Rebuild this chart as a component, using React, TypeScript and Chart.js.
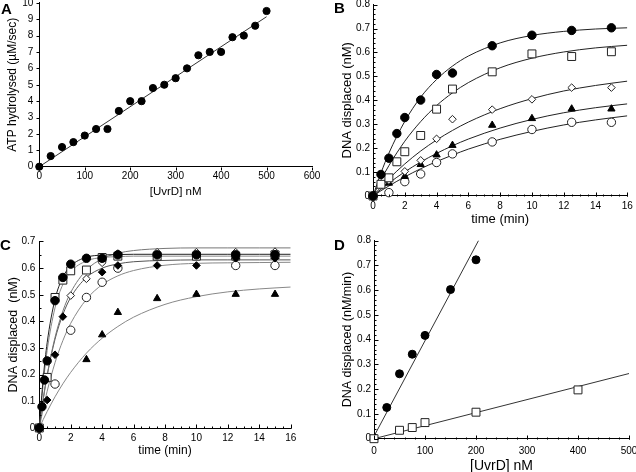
import React, { useEffect, useRef } from 'react';
import { Chart, registerables } from 'chart.js';
Chart.register(...registerables);

const FONT = '"Liberation Sans", Arial, Helvetica, sans-serif';

// ---------- Panel A ----------
const aUvrD = [0, 25, 50, 75, 100, 125, 150, 175, 200, 225, 250, 275, 300, 325, 350, 375, 400, 425, 450, 475, 500];
const aATP = [0, 0.65, 1.2, 1.5, 1.9, 2.3, 2.3, 3.4, 4.0, 4.0, 4.8, 5.0, 5.4, 6.0, 6.8, 7.0, 7.0, 7.9, 8.0, 8.6, 9.5];
const aFitX = [0, 500];
const aFitY = [0, 9.15];

// ---------- Panel B ----------
const bTime1 = [0, 0.5, 1, 1.5, 2, 3, 4, 5, 7.5, 10, 12.5, 15];
const bFilledCircle = [0, 0.09, 0.158, 0.261, 0.328, 0.401, 0.508, 0.514, 0.628, 0.672, 0.692, 0.703];
const bOpenSquare = [0, 0.049, 0.076, 0.143, 0.185, 0.253, 0.363, 0.447, 0.519, 0.594, 0.583, 0.603];
const bTime2 = [0, 1, 2, 3, 4, 5, 7.5, 10, 12.5, 15];
const bOpenDiamond = [0, 0.065, 0.103, 0.149, 0.239, 0.321, 0.361, 0.404, 0.453, 0.453];
const bFilledTriangle = [0, 0.054, 0.082, 0.132, 0.172, 0.212, 0.296, 0.324, 0.364, 0.364];
const bOpenCircle = [0, 0.014, 0.06, 0.092, 0.14, 0.176, 0.226, 0.278, 0.308, 0.308];
const bFitT = [0, 0.5, 1, 2, 3, 4, 5, 6, 8, 10, 12, 14, 16];
const bFit1 = [0, 0.096, 0.179, 0.312, 0.413, 0.487, 0.543, 0.585, 0.640, 0.671, 0.688, 0.698, 0.703];
const bFit2 = [0, 0.067, 0.127, 0.229, 0.311, 0.378, 0.431, 0.474, 0.536, 0.576, 0.602, 0.619, 0.630];
const bFit3 = [0, 0.037, 0.072, 0.134, 0.188, 0.234, 0.274, 0.309, 0.365, 0.407, 0.439, 0.462, 0.480];
const bFit4 = [0, 0.028, 0.054, 0.101, 0.142, 0.178, 0.210, 0.238, 0.284, 0.320, 0.348, 0.369, 0.385];
const bFit5 = [0, 0.022, 0.042, 0.080, 0.114, 0.144, 0.171, 0.196, 0.237, 0.270, 0.297, 0.318, 0.335];

// ---------- Panel C ----------
const cTime1 = [0, 0.17, 0.33, 0.5, 1, 1.5, 2, 3, 4, 5, 7.5, 10, 12.5, 15];
const cFilledCircle = [0, 0.08, 0.18, 0.252, 0.478, 0.565, 0.615, 0.637, 0.637, 0.65, 0.65, 0.65, 0.65, 0.65];
const cTime2 = [0, 0.5, 1, 1.5, 2, 3, 4, 5, 7.5, 10, 12.5, 15];
const cOpenSquare = [0, 0.19, 0.49, 0.555, 0.59, 0.593, 0.64, 0.645, 0.645, 0.645, 0.645, 0.65];
const cOpenDiamond = [0, null, null, null, 0.497, 0.56, 0.62, 0.655, 0.66, 0.66, 0.66, 0.662];
const cFilledDiamond = [0, 0.105, 0.275, 0.418, null, null, 0.585, 0.61, 0.61, 0.61, 0.637, 0.637];
const cOpenCircle = [0, null, 0.165, null, 0.367, 0.49, 0.547, 0.60, 0.65, 0.65, 0.61, 0.61];
const cFilledTriangle = [0, null, null, null, null, 0.257, 0.35, 0.434, 0.486, 0.502, 0.502, 0.502];
const cFitT = [0, 0.25, 0.5, 1, 1.5, 2, 3, 4, 5, 6, 8, 10, 12, 14, 16];
const cFit1 = [0, 0.187, 0.320, 0.483, 0.566, 0.608, 0.641, 0.649, 0.651, 0.652, 0.652, 0.652, 0.652, 0.652, 0.652];
const cFit2 = [0, 0.167, 0.291, 0.451, 0.539, 0.587, 0.627, 0.640, 0.643, 0.645, 0.645, 0.645, 0.645, 0.645, 0.645];
const cFit3 = [0, 0.108, 0.199, 0.340, 0.439, 0.509, 0.593, 0.635, 0.656, 0.666, 0.674, 0.676, 0.676, 0.676, 0.676];
const cFit4 = [0, 0.108, 0.197, 0.333, 0.426, 0.490, 0.565, 0.600, 0.616, 0.624, 0.629, 0.631, 0.631, 0.631, 0.631];
const cFit5 = [0, 0.073, 0.138, 0.245, 0.328, 0.393, 0.483, 0.538, 0.571, 0.591, 0.611, 0.618, 0.620, 0.621, 0.622];
const cFit6 = [0, 0.032, 0.062, 0.117, 0.166, 0.209, 0.281, 0.337, 0.381, 0.416, 0.464, 0.493, 0.511, 0.522, 0.529];

// ---------- Panel D ----------
const dUvrD1 = [25, 50, 75, 100, 150, 200];
const dRate1 = [0.126, 0.262, 0.341, 0.417, 0.602, 0.722];
const dUvrD2 = [0, 50, 75, 100, 200, 400];
const dRate2 = [0, 0.034, 0.045, 0.065, 0.107, 0.197];
const dFit1X = [0, 205];
const dFit1Y = [0.01, 0.8];
const dFit2X = [0, 500];
const dFit2Y = [0, 0.263];

const pts = (xs: number[], ys: (number | null)[]) =>
  xs.map((x, i) => ({ x, y: ys[i] })).filter((p) => p.y !== null);

const marker = (data: any[], style: string, filled: boolean, radius: number) => ({
  data,
  showLine: false,
  pointStyle: style,
  pointRadius: radius,
  pointHoverRadius: radius,
  pointBackgroundColor: filled ? '#000' : '#fff',
  pointBorderColor: filled ? '#000' : '#222',
  pointBorderWidth: 1,
  clip: false,
  order: 0,
});

const curve = (data: any[], color = '#222', width = 1) => ({
  data,
  showLine: true,
  pointRadius: 0,
  pointHoverRadius: 0,
  borderColor: color,
  borderWidth: width,
  cubicInterpolationMode: 'monotone',
  fill: false,
  order: 1,
});

const tickMarksPlugin = {
  id: 'tickMarks',
  afterDraw(chart: any, _args: any, opts: any) {
    const { ctx, chartArea } = chart;
    const xs = chart.scales.x;
    const ys = chart.scales.y;
    ctx.save();
    ctx.strokeStyle = '#000';
    ctx.lineWidth = 1;
    ctx.beginPath();
    const dx = opts.inward ? -1 : 1;
    const dy = opts.inward ? 1 : -1;
    const axisY = Math.round(chartArea.bottom) + 0.5;
    const axisX = Math.round(chartArea.left) + 0.5;
    const doX = (step: number, len: number) => {
      if (!step) return;
      const n = Math.round((xs.max - xs.min) / step);
      for (let i = 0; i <= n; i++) {
        const p = Math.round(xs.getPixelForValue(xs.min + i * step)) + 0.5;
        ctx.moveTo(p, axisY);
        ctx.lineTo(p, axisY + dx * len);
      }
    };
    const doY = (step: number, len: number) => {
      if (!step) return;
      const n = Math.round((ys.max - ys.min) / step);
      for (let i = 0; i <= n; i++) {
        const p = Math.round(ys.getPixelForValue(ys.min + i * step)) + 0.5;
        ctx.moveTo(axisX, p);
        ctx.lineTo(axisX + dy * len, p);
      }
    };
    doX(opts.xMinor, opts.minorLen);
    doX(opts.xMajor, opts.majorLen);
    doY(opts.yMinor, opts.minorLen);
    doY(opts.yMajor, opts.majorLen);
    ctx.stroke();
    ctx.restore();
  },
};

type PanelCfg = {
  datasets: any[];
  l: number; r: number; t: number; b: number;
  yw: number; xh: number;
  xMin: number; xMax: number; xStep: number;
  yMin: number; yMax: number; yStep: number;
  xTitle: string; yTitle: string;
  xTitleSize: number; yTitleSize: number;
  xTitlePad: number; yTitlePad: number;
  tickSize: number; xTickPad: number; yTickPad: number;
  marks: any;
};

const W = 636;
const H = 486;
const OFF = 2; // canvas is shifted up by OFF px

function buildConfig(p: PanelCfg): any {
  return {
    type: 'scatter',
    data: { datasets: p.datasets },
    plugins: [tickMarksPlugin],
    options: {
      responsive: false,
      animation: false,
      events: [],
      layout: {
        padding: {
          left: p.l - p.yw,
          top: p.t + OFF - 0.5,
          right: W - p.r,
          bottom: H - (p.b + OFF) - p.xh,
        },
      },
      plugins: {
        legend: { display: false },
        tooltip: { enabled: false },
        tickMarks: p.marks,
      },
      scales: {
        x: {
          type: 'linear',
          min: p.xMin,
          max: p.xMax,
          ticks: {
            stepSize: p.xStep,
            autoSkip: false,
            maxRotation: 0,
            padding: p.xTickPad,
            color: '#000',
            font: { family: FONT, size: p.tickSize },
          },
          grid: { display: false, drawTicks: false },
          border: { display: true, color: '#000', width: 1 },
          title: {
            display: true,
            text: p.xTitle,
            color: '#000',
            font: { family: FONT, size: p.xTitleSize },
            padding: { top: 0, bottom: p.xTitlePad },
          },
          afterFit: (s: any) => {
            s.height = p.xh;
            s.paddingLeft = 0;
            s.paddingRight = 0;
          },
        },
        y: {
          type: 'linear',
          min: p.yMin,
          max: p.yMax,
          ticks: {
            stepSize: p.yStep,
            autoSkip: false,
            padding: p.yTickPad,
            color: '#000',
            font: { family: FONT, size: p.tickSize },
          },
          grid: { display: false, drawTicks: false },
          border: { display: true, color: '#000', width: 1 },
          title: {
            display: true,
            text: p.yTitle,
            color: '#000',
            font: { family: FONT, size: p.yTitleSize },
            padding: { top: p.yTitlePad, bottom: 0 },
          },
          afterFit: (s: any) => {
            s.width = p.yw;
            s.paddingTop = 0;
            s.paddingBottom = 0;
          },
        },
      },
    },
  };
}

const panelA: PanelCfg = {
  datasets: [
    marker(pts(aUvrD, aATP), 'circle', true, 3.6),
    curve(pts(aFitX, aFitY), '#333', 1),
  ],
  l: 39.3, r: 312, t: 3.3, b: 166.7, yw: 39.3, xh: 40,
  xMin: 0, xMax: 600, xStep: 100, yMin: 0, yMax: 10, yStep: 1,
  xTitle: '[UvrD] nM', yTitle: 'ATP hydrolysed (\u00b5M/sec)',
  xTitleSize: 11.5, yTitleSize: 12, xTitlePad: 8, yTitlePad: 5.4,
  tickSize: 10, xTickPad: 4, yTickPad: 6,
  marks: { inward: false, xMajor: 100, yMajor: 1, majorLen: 3, minorLen: 0 },
};

const panelB: PanelCfg = {
  datasets: [
    marker(pts(bTime1, bFilledCircle), 'circle', true, 4.2),
    marker(pts(bTime1, bOpenSquare), 'rect', false, 5.6),
    marker(pts(bTime2, bOpenDiamond), 'rectRot', false, 3.8),
    marker(pts(bTime2, bFilledTriangle), 'triangle', true, 4.2),
    marker(pts(bTime2, bOpenCircle), 'circle', false, 4.2),
    curve(pts(bFitT, bFit1)),
    curve(pts(bFitT, bFit2)),
    curve(pts(bFitT, bFit3)),
    curve(pts(bFitT, bFit4)),
    curve(pts(bFitT, bFit5)),
  ],
  l: 373, r: 627.3, t: 4, b: 196, yw: 55, xh: 40,
  xMin: 0, xMax: 16, xStep: 2, yMin: 0, yMax: 0.8, yStep: 0.1,
  xTitle: 'time (min)', yTitle: 'DNA displaced (nM)',
  xTitleSize: 13, yTitleSize: 13, xTitlePad: 8.9, yTitlePad: 21.5,
  tickSize: 10, xTickPad: 4, yTickPad: 3,
  marks: { inward: true, xMajor: 2, xMinor: 0.5, yMajor: 0.1, yMinor: 0.02, majorLen: 4, minorLen: 2 },
};

const panelC: PanelCfg = {
  datasets: [
    marker(pts(cTime1, cFilledCircle), 'circle', true, 4.2),
    marker(pts(cTime2, cFilledDiamond), 'rectRot', true, 3.8),
    marker(pts(cTime2, cFilledTriangle), 'triangle', true, 4.2),
    marker(pts(cTime2, cOpenSquare), 'rect', false, 5.6),
    marker(pts(cTime2, cOpenDiamond), 'rectRot', false, 3.8),
    marker(pts(cTime2, cOpenCircle), 'circle', false, 4.2),
    curve(pts(cFitT, cFit1), '#222'),
    curve(pts(cFitT, cFit2), '#888'),
    curve(pts(cFitT, cFit3), '#777'),
    curve(pts(cFitT, cFit4), '#555'),
    curve(pts(cFitT, cFit5), '#888'),
    curve(pts(cFitT, cFit6), '#888'),
  ],
  l: 39.3, r: 290.7, t: 242, b: 428, yw: 39.3, xh: 40,
  xMin: 0, xMax: 16, xStep: 2, yMin: 0, yMax: 0.7, yStep: 0.1,
  xTitle: 'time (min)', yTitle: 'DNA displaced  (nM)',
  xTitleSize: 12, yTitleSize: 12.5, xTitlePad: 9.8, yTitlePad: 5.8,
  tickSize: 10, xTickPad: 4.3, yTickPad: 4,
  marks: { inward: true, xMajor: 2, xMinor: 0.5, yMajor: 0.1, yMinor: 0.05, majorLen: 4, minorLen: 2 },
};

const panelD: PanelCfg = {
  datasets: [
    marker(pts(dUvrD1, dRate1), 'circle', true, 4),
    marker(pts(dUvrD2, dRate2), 'rect', false, 5.6),
    curve(pts(dFit1X, dFit1Y), '#333'),
    curve(pts(dFit2X, dFit2Y), '#333'),
  ],
  l: 374, r: 629, t: 241, b: 438.7, yw: 56, xh: 40,
  xMin: 0, xMax: 500, xStep: 100, yMin: 0, yMax: 0.8, yStep: 0.1,
  xTitle: '[UvrD] nM', yTitle: 'DNA displaced (nM/min)',
  xTitleSize: 14, yTitleSize: 12.5, xTitlePad: 4, yTitlePad: 21.8,
  tickSize: 10, xTickPad: 6.3, yTickPad: 3,
  marks: { inward: true, xMajor: 100, xMinor: 20, yMajor: 0.1, yMinor: 0.02, majorLen: 4, minorLen: 2 },
};

function Panel({ cfg }: { cfg: PanelCfg }) {
  const ref = useRef<HTMLCanvasElement>(null);
  useEffect(() => {
    if (!ref.current) return;
    const chart = new Chart(ref.current, buildConfig(cfg));
    return () => chart.destroy();
  }, [cfg]);
  return (
    <canvas
      ref={ref}
      width={W}
      height={H}
      style={{ position: 'absolute', left: 0, top: -OFF, width: W, height: H }}
    />
  );
}

const letterStyle = (left: number, top: number): React.CSSProperties => ({
  position: 'absolute',
  left,
  top,
  fontFamily: FONT,
  fontWeight: 'bold',
  fontSize: 15,
  lineHeight: '15px',
  color: '#000',
});

export default function App() {
  return (
    <div
      style={{
        position: 'fixed',
        left: 0,
        top: 0,
        width: 636,
        height: 472,
        overflow: 'hidden',
        background: '#fff',
      }}
    >
      <Panel cfg={panelA} />
      <Panel cfg={panelB} />
      <Panel cfg={panelC} />
      <Panel cfg={panelD} />
      <div style={letterStyle(1, 1)}>A</div>
      <div style={letterStyle(334, 0)}>B</div>
      <div style={letterStyle(0, 237)}>C</div>
      <div style={letterStyle(334, 237)}>D</div>
    </div>
  );
}
